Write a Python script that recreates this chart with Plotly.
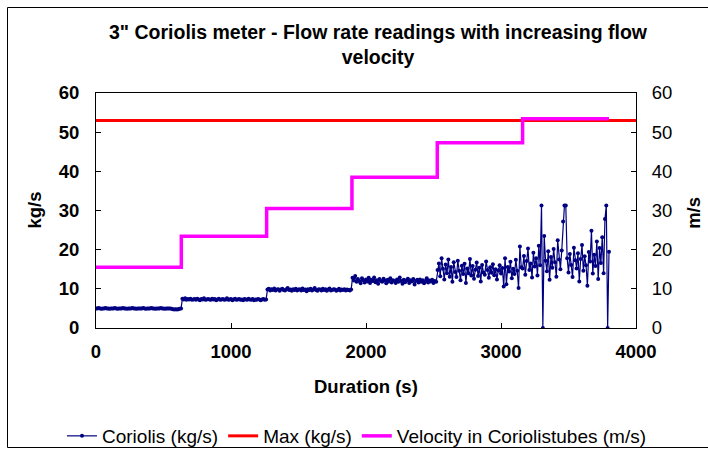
import numpy as np
import plotly.graph_objects as go

# ---------------- data ----------------
seg_starts = [0, 640, 1270, 1900, 2530, 3160]   # s, start of each flow step
seg_dt = 10                                     # s between readings

cor_seg1 = [5.0,5.0,5.1,5.0,4.9,5.0,5.0,5.1,5.0,5.0, 4.9,5.0,5.0,5.0,5.1,5.0,4.9,5.0,5.0,5.0,
            5.1,5.0,5.0,4.9,5.0,5.0,5.0,5.1,5.0,5.0, 4.9,5.0,5.0,5.0,5.0,5.1,5.0,4.9,5.0,5.0,
            5.0,5.1,5.0,5.0,4.9,5.0,5.0,5.0,5.1,5.0, 5.0,4.9,5.0,5.0,5.0,5.0,4.9,4.8,4.7,4.8,
            4.7,4.8,4.9,5.0]
cor_seg2 = [7.5,7.3,7.6,7.2,7.4,7.3,7.5,7.2,7.3,7.4, 7.2,7.5,7.3,7.1,7.4,7.3,7.6,7.2,7.3,7.4,
            7.3,7.2,7.5,7.3,7.4,7.1,7.3,7.5,7.2,7.3, 7.4,7.2,7.3,7.6,7.2,7.3,7.4,7.1,7.3,7.5,
            7.2,7.3,7.4,7.2,7.3,7.1,7.4,7.3,7.2,7.5, 7.3,7.2,7.4,7.1,7.3,7.2,7.4,7.3,7.1,7.3,
            7.4,7.2,7.3]
cor_seg3 = [9.8,10.0,9.6,9.9,9.7,10.1,9.6,9.8,9.9,9.5, 9.8,10.0,9.7,9.6,9.9,10.2,9.7,9.8,9.5,9.9,
            9.7,10.0,9.6,9.8,9.9,9.6,10.1,9.7,9.8,9.4, 9.9,9.7,10.0,9.6,9.8,10.2,9.7,9.5,9.9,9.8,
            9.6,10.0,9.7,9.9,9.5,9.8,10.1,9.6,9.7,9.9, 9.8,9.5,9.7,10.0,9.6,9.8,9.7,9.9,9.6,9.8,
            9.7,9.6,9.8]
cor_seg4 = [12.8,12.1,13.3,11.8,12.5,12.0,11.4,12.7,12.2,11.6, 12.4,11.9,12.8,11.5,12.3,12.0,12.9,11.7,12.2,11.3,
            12.5,12.0,11.8,12.6,12.1,11.4,12.3,11.9,12.7,11.6, 12.2,12.0,11.5,12.4,11.8,12.9,12.0,11.3,12.3,11.7,
            12.1,12.6,11.5,12.2,11.9,12.5,11.1,12.0,12.3,11.6, 12.4,11.8,12.2,11.4,12.0,12.7,11.6,12.1,11.9,12.3,
            11.5,12.0,11.8]
cor_seg5 = [14.8,16.5,13.2,17.8,15.1,12.4,16.2,14.0,17.5,13.1, 15.6,11.8,16.8,14.3,13.0,17.2,14.6,12.2,15.9,13.8,
            16.4,11.5,15.2,14.0,17.6,13.4,15.8,12.6,14.9,16.7, 13.3,15.4,11.9,16.1,14.2,13.6,17.0,14.8,12.8,15.5,
            14.1,16.3,13.5,15.0,12.4,14.7,16.0,13.9,15.3,10.6, 17.8,11.2,15.6,14.4,16.9,12.7,15.1,13.8,17.4,14.6,
            10.2,20.8,15.5]
cor_seg6 = [15.2,18.4,13.6,17.1,20.3,14.8,16.5,12.9,19.2,15.7, 17.8,13.4,21.0,16.0,31.3,0.0,23.5,17.2,14.5,19.6,
            12.3,18.1,15.4,20.2,16.8,13.1,22.4,17.5,15.0,19.8, 27.2,31.3,31.3,17.8,14.2,18.9,16.1,13.0,20.5,17.3,
            15.2,19.1,11.9,17.6,21.2,14.6,18.3,16.0,10.8,19.4, 17.0,24.8,13.9,18.7,15.8,22.1,12.5,20.4,16.6,23.2,
            14.0,27.8,31.3,0.0,19.5]
cor_segments = [cor_seg1, cor_seg2, cor_seg3, cor_seg4, cor_seg5, cor_seg6]

vel_t = [0, 632, 1264, 1896, 2528, 3160, 3800]
vel_v = [15.5, 23.4, 30.5, 38.5, 47.3, 53.4, 53.4]

max_t = [0, 4000]
max_v = [53, 53]

title_text = '3" Coriolis meter - Flow rate readings with increasing flow<br>velocity'

# build coriolis time/value arrays from segments
cor_t, cor_v = [], []
for start, seg in zip(seg_starts, cor_segments):
    cor_t += [start + seg_dt * i for i in range(len(seg))]
    cor_v += seg

FONT = "Liberation Sans, Arial, sans-serif"
FS = 18.5

fig = go.Figure()
fig.add_trace(go.Scatter(x=cor_t, y=cor_v, mode="lines+markers", name="Coriolis (kg/s)",
                         line=dict(color="#000080", width=1.2),
                         marker=dict(color="#000080", size=4)))
fig.add_trace(go.Scatter(x=max_t, y=max_v, mode="lines", name="Max (kg/s)",
                         line=dict(color="#FF0000", width=3)))
fig.add_trace(go.Scatter(x=vel_t, y=vel_v, mode="lines", name="Velocity in Coriolistubes (m/s)",
                         line=dict(color="#FF00FF", width=3.5, shape="hv"), yaxis="y2"))

W, H = 708, 450
ml, mr, mt, mb = 96, 72, 93, 122
pw, ph = W - ml - mr, H - mt - mb
def px(xp): return (xp - ml) / pw
def py(yp): return (H - mb - yp) / ph

fig.update_layout(
    width=W, height=H, margin=dict(l=ml, r=mr, t=mt, b=mb, autoexpand=False),
    paper_bgcolor="white", plot_bgcolor="white",
    font=dict(family=FONT, size=FS, color="black"),
    title=dict(text="<b>" + title_text + "</b>", x=378 / W, xanchor="center",
               y=1 - 39 / H, yanchor="middle", font=dict(size=19.5)),
    xaxis=dict(range=[0, 4000], dtick=1000, tick0=0, showgrid=False, zeroline=False,
               showline=True, linecolor="black", linewidth=1, mirror=True,
               ticks="inside", ticklen=5, tickcolor="black",
               tickfont=dict(size=FS, family=FONT, weight="bold"), ticklabelstandoff=7),
    yaxis=dict(range=[0, 60], dtick=10, showgrid=False, zeroline=False,
               showline=True, linecolor="black", linewidth=1,
               ticks="inside", ticklen=5, tickcolor="black",
               tickfont=dict(size=FS, family=FONT, weight="bold"), ticklabelstandoff=12),
    yaxis2=dict(range=[0, 60], dtick=10, overlaying="y", side="right", showgrid=False,
                zeroline=False, showline=True, linecolor="black", linewidth=1,
                ticks="inside", ticklen=5, tickcolor="black",
                tickfont=dict(size=FS, family=FONT), ticklabelstandoff=11),
    legend=dict(orientation="h", x=px(62), xanchor="left", xref="paper",
                y=py(436), yanchor="middle", yref="paper",
                font=dict(size=19), bgcolor="rgba(0,0,0,0)",
                tracegroupgap=0),
    showlegend=True,
)

fig.add_annotation(text="<b>kg/s</b>", xref="paper", yref="paper", x=px(34), y=0.5,
                   xanchor="center", yanchor="middle",
                   showarrow=False, textangle=-90, font=dict(size=FS))
fig.add_annotation(text="<b>m/s</b>", xref="paper", yref="paper", x=px(694), y=0.49,
                   xanchor="center", yanchor="middle",
                   showarrow=False, textangle=-90, font=dict(size=FS))
fig.add_annotation(text="<b>Duration (s)</b>", xref="paper", yref="paper", x=px(366), y=py(386),
                   xanchor="center", yanchor="middle",
                   showarrow=False, font=dict(size=FS))

fig.add_shape(type="rect", xref="paper", yref="paper",
              x0=px(7.5), x1=px(715), y0=py(447.5), y1=py(7.5),
              line=dict(color="black", width=1), fillcolor="rgba(0,0,0,0)", layer="below")

fig.write_html("out.html")
